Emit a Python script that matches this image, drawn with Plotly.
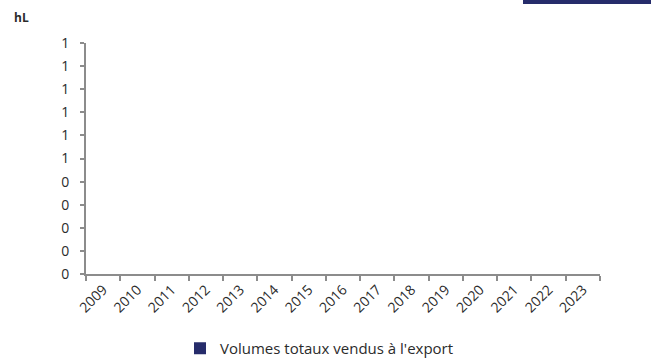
import plotly.graph_objects as go

years = [str(y) for y in range(2009, 2024)]
volumes = [None] * len(years)
series_name = "Volumes totaux vendus à l'export"
y_tickvals = [0, 0.1, 0.2, 0.3, 0.4, 0.5, 0.6, 0.7, 0.8, 0.9, 1.0]
y_ticktext = ["0", "0", "0", "0", "0", "1", "1", "1", "1", "1", "1"]

NAVY = "#262c6b"
AXIS = "#8c8c8c"
TXT = "#2b2b2b"
FONT = "Open Sans"

fig = go.Figure()
fig.add_trace(go.Bar(x=years, y=volumes, name=series_name,
                     marker=dict(color=NAVY, line=dict(width=0)),
                     showlegend=True))

fig.update_layout(
    width=651, height=358,
    margin=dict(l=86, r=51, t=43, b=84, autoexpand=False),
    paper_bgcolor="white", plot_bgcolor="white",
    font=dict(family=FONT, size=13, color=TXT),
    showlegend=True,
    legend=dict(orientation="h", x=(180 - 86) / 514, xanchor="left",
                y=-(332 - 274) / 231, yanchor="top",
                font=dict(size=15, color=TXT), itemwidth=30,
                bgcolor="rgba(0,0,0,0)"),
    xaxis=dict(type="category", categoryorder="array", categoryarray=years,
               range=[-0.5, 14.5], showgrid=False, zeroline=False, automargin=False,
               showline=True, linecolor=AXIS, linewidth=2,
               ticks="outside", tickson="boundaries", ticklen=5, tickcolor=AXIS, tickwidth=2,
               tickangle=-45, tickfont=dict(size=14, color=TXT)),
    yaxis=dict(range=[0, 1], tickvals=y_tickvals, ticktext=y_ticktext,
               showgrid=False, zeroline=False, automargin=False,
               showline=True, linecolor=AXIS, linewidth=2,
               ticks="outside", ticklen=4, tickcolor=AXIS, tickwidth=2,
               tickfont=dict(size=14, color=TXT), ticklabelstandoff=8),
    annotations=[dict(text="<b>hL</b>", xref="paper", yref="paper",
                      x=(12 - 86) / 514, xanchor="left", y=1 + 26 / 231, yanchor="middle",
                      showarrow=False, font=dict(size=12, color=TXT))],
    shapes=[dict(type="rect", xref="paper", yref="paper",
                 x0=(523 - 86) / 514, x1=(651 - 86) / 514, y0=1 + 39 / 231, y1=1 + 44 / 231,
                 fillcolor=NAVY, line=dict(width=0))],
)

fig.write_html("out.html", config={"displayModeBar": False},
               post_script="document.body.style.margin='0px';")
